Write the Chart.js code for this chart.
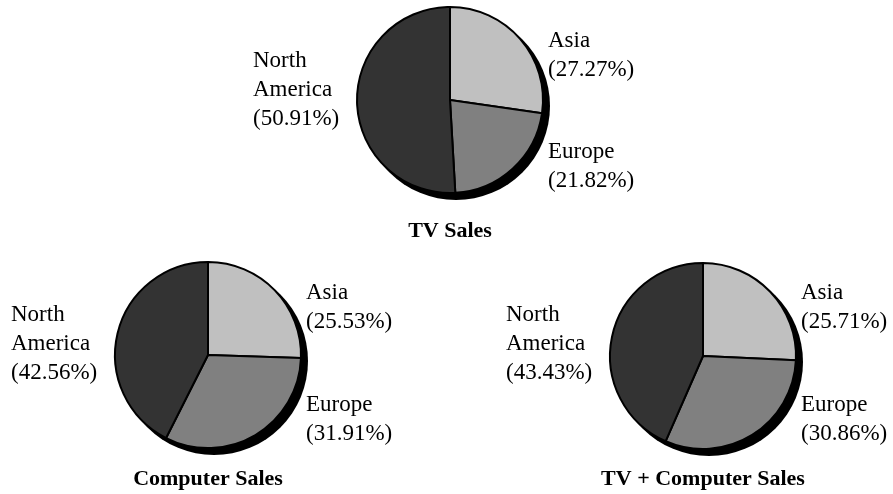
<!DOCTYPE html>
<html>
<head>
<meta charset="utf-8">
<script src="https://cdn.jsdelivr.net/npm/chart.js@4"></script>
<style>
  html, body { margin: 0; padding: 0; background: #fff; }
  #stage { position: relative; width: 893px; height: 494px; overflow: hidden; }
  #stage canvas { position: absolute; left: 0; top: 0; }
</style>
</head>
<body>
<div id="stage">
  <canvas id="tvChart" width="893" height="494"></canvas>
  <canvas id="computerChart" width="893" height="494"></canvas>
  <canvas id="combinedChart" width="893" height="494"></canvas>
</div>
<script>
// Sales share by region (percent)
const regions = ['Asia', 'Europe', 'North America'];
const tvSales = [27.27, 21.82, 50.91];
const computerSales = [25.53, 31.91, 42.56];
const combinedSales = [25.71, 30.86, 43.43];
const chartTitles = ['TV Sales', 'Computer Sales', 'TV + Computer Sales'];

const PAGE_W = 893, PAGE_H = 494;
const FONT = '"Liberation Serif", "Times New Roman", serif';
const sliceColors = ['#c0c0c0', '#808080', '#333333'];

// Where each pie sits on the page, plus vertical offsets of its text blocks from the centre
const layouts = [
  { cx: 450, cy: 100, r: 93, asiaY: -53, europeY: 58, naY: -33, titleY: 137 },
  { cx: 208, cy: 355, r: 93, asiaY: -56, europeY: 56, naY: -34, titleY: 130 },
  { cx: 703, cy: 356, r: 93, asiaY: -57, europeY: 55, naY: -35, titleY: 129 }
];

// Drop shadow behind the pie, region labels beside it and the caption below
const pieDecor = {
  id: 'pieDecor',
  beforeDatasetsDraw(chart) {
    const arc = chart.getDatasetMeta(0).data[0];
    const ctx = chart.ctx;
    ctx.save();
    ctx.fillStyle = '#000';
    ctx.beginPath();
    ctx.arc(arc.x + 6, arc.y + 6, arc.outerRadius + 1, 0, Math.PI * 2);
    ctx.fill();
    ctx.restore();
  },
  afterDatasetsDraw(chart, args, opts) {
    const arc = chart.getDatasetMeta(0).data[0];
    const { x, y } = arc;
    const r = arc.outerRadius;
    const values = chart.data.datasets[0].data;
    const names = chart.data.labels;
    const pct = v => '(' + v.toFixed(2) + '%)';
    const ctx = chart.ctx;
    const lh = 29;

    ctx.save();
    ctx.fillStyle = '#000';
    ctx.textBaseline = 'alphabetic';
    ctx.textAlign = 'left';
    ctx.font = '23px ' + FONT;

    const drawBlock = (lines, left, top) => {
      lines.forEach((t, i) => ctx.fillText(t, left, top + i * lh));
    };
    drawBlock([names[0], pct(values[0])], x + r + 5, y + opts.asiaY);
    drawBlock([names[1], pct(values[1])], x + r + 5, y + opts.europeY);
    drawBlock([...names[2].split(' '), pct(values[2])], x - r - 104, y + opts.naY);

    ctx.textAlign = 'center';
    ctx.font = 'bold 22px ' + FONT;
    ctx.fillText(opts.title, x, y + opts.titleY);
    ctx.restore();
  }
};

function makePie(canvasId, values, title, L) {
  return new Chart(document.getElementById(canvasId), {
    type: 'pie',
    data: {
      labels: regions,
      datasets: [{
        data: values,
        backgroundColor: sliceColors,
        borderColor: '#000',
        borderWidth: 2
      }]
    },
    options: {
      responsive: false,
      animation: false,
      events: [],
      radius: L.r,
      layout: {
        padding: {
          left: L.cx - 100,
          right: PAGE_W - L.cx - 100,
          top: L.cy - 100,
          bottom: PAGE_H - L.cy - 100
        }
      },
      plugins: {
        legend: { display: false },
        tooltip: { enabled: false },
        pieDecor: {
          title: title,
          asiaY: L.asiaY,
          europeY: L.europeY,
          naY: L.naY,
          titleY: L.titleY
        }
      }
    },
    plugins: [pieDecor]
  });
}

makePie('tvChart', tvSales, chartTitles[0], layouts[0]);
makePie('computerChart', computerSales, chartTitles[1], layouts[1]);
makePie('combinedChart', combinedSales, chartTitles[2], layouts[2]);
</script>
</body>
</html>
